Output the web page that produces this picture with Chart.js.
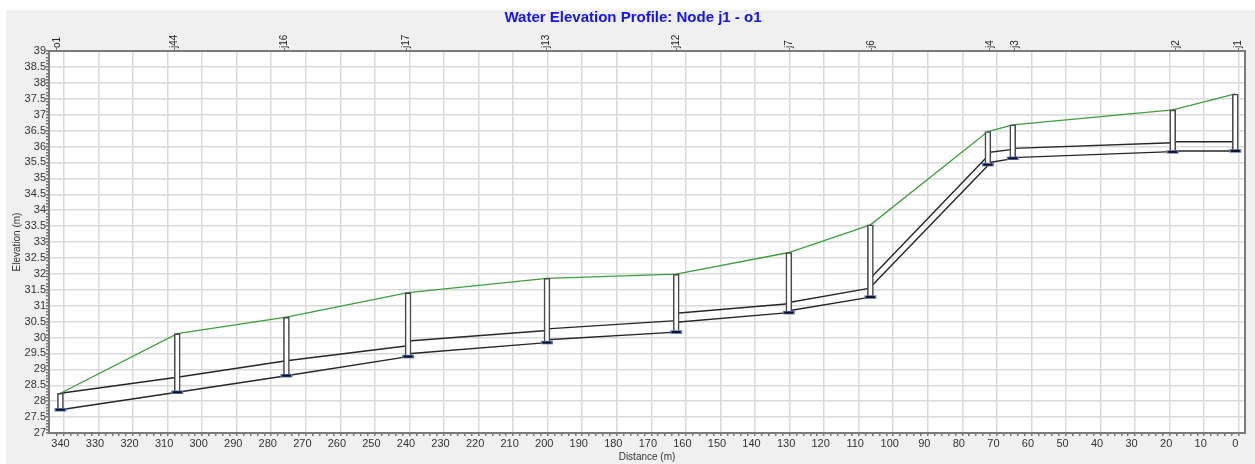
<!DOCTYPE html>
<html>
<head>
<meta charset="utf-8">
<title>Water Elevation Profile</title>
<script src="https://cdn.jsdelivr.net/npm/chart.js@4.4.1/dist/chart.umd.min.js"></script>
<style>
html, body { margin: 0; padding: 0; background: #fff; }
#wrap { width: 1255px; height: 464px; }
</style>
</head>
<body>
<div id="wrap"><canvas id="profile" width="1255" height="464"></canvas></div>
<script>
// nodes along the profile, left (o1) to right (j1)
const nodeNames = ['o1', 'j44', 'j16', 'j17', 'j13', 'j12', 'j7', 'j6', 'j4', 'j3', 'j2', 'j1'];
const nodeDist = [340, 306.2, 274.6, 239.4, 199.2, 161.8, 129.2, 105.6, 71.6, 64.4, 18.1, 0];
const waterElev = [28.25, 30.12, 30.64, 31.41, 31.86, 31.99, 32.67, 33.54, 36.47, 36.68, 37.15, 37.65];
const invertElev = [27.73, 28.28, 28.80, 29.40, 29.84, 30.17, 30.78, 31.27, 35.43, 35.63, 35.83, 35.86];

// links between neighbour nodes: pipe bottom / crown at left and right end
const linkBotLeft = [27.73, 28.28, 28.80, 29.49, 29.93, 30.48, 30.84, 31.58, 35.49, 35.65, 35.86];
const linkBotRight = [28.28, 28.80, 29.40, 29.84, 30.17, 30.78, 31.27, 35.40, 35.62, 35.84, 35.86];
const linkTopLeft = [28.25, 28.75, 29.27, 29.89, 30.27, 30.76, 31.10, 31.86, 35.81, 35.94, 36.15];
const linkTopRight = [28.75, 29.27, 29.74, 30.22, 30.53, 31.06, 31.55, 35.70, 35.91, 36.12, 36.15];

const FONT = 'Liberation Sans, Arial, sans-serif';
const X_MIN = -1.8, X_MAX = 342.3;

function pipeLine(leftVals, rightVals) {
    const pts = [];
    for (let i = 0; i < leftVals.length; i++) {
        pts.push({x: nodeDist[i], y: leftVals[i]});
        pts.push({x: nodeDist[i + 1], y: rightVals[i]});
        pts.push({x: nodeDist[i + 1], y: null});
    }
    return pts;
}

const waterPts = nodeDist.map((d, i) => ({x: d, y: waterElev[i]}));
const nodeBars = nodeDist.map((d, i) => ({x: d, y: [invertElev[i], waterElev[i]]}));
const invertPts = nodeDist.map((d, i) => ({x: d, y: invertElev[i]}));

const background = {
    id: 'background',
    beforeDraw(chart) {
        const {ctx, width, height, chartArea: a} = chart;
        ctx.save();
        ctx.fillStyle = '#ffffff';
        ctx.fillRect(0, 0, width, height);
        ctx.fillStyle = '#f0f0f0';
        ctx.fillRect(6, 10, width - 6, height - 10);
        ctx.fillStyle = '#ffffff';
        ctx.fillRect(a.left, a.top, a.right - a.left, a.bottom - a.top);
        ctx.restore();
    },
    afterDraw(chart) {
        const {ctx, chartArea: a} = chart;
        ctx.save();
        ctx.strokeStyle = '#7a7a7a';
        ctx.lineWidth = 2;
        ctx.strokeRect(a.left, a.top, a.right - a.left, a.bottom - a.top);
        ctx.restore();
    }
};

const isHalf = v => Math.abs(v * 2 - Math.round(v * 2)) < 1e-6;

const config = {
    type: 'line',
    data: {
        datasets: [
            {
                type: 'line',
                data: pipeLine(linkTopLeft, linkTopRight),
                borderColor: '#262626',
                borderWidth: 1.4,
                pointRadius: 0,
                spanGaps: false,
                xAxisID: 'x', yAxisID: 'y',
                order: 3
            },
            {
                type: 'line',
                data: pipeLine(linkBotLeft, linkBotRight),
                borderColor: '#262626',
                borderWidth: 1.4,
                pointRadius: 0,
                spanGaps: false,
                xAxisID: 'x', yAxisID: 'y',
                order: 3
            },
            {
                type: 'line',
                data: waterPts,
                borderColor: '#3c9e3c',
                borderWidth: 1.3,
                pointRadius: 0,
                tension: 0,
                xAxisID: 'x', yAxisID: 'y',
                order: 2
            },
            {
                type: 'bar',
                data: nodeBars,
                backgroundColor: '#ffffff',
                borderColor: '#4a4a4a',
                borderWidth: 1.6,
                borderSkipped: false,
                barThickness: 6,
                xAxisID: 'x', yAxisID: 'y',
                order: 1
            },
            {
                type: 'line',
                data: invertPts,
                showLine: false,
                pointStyle: 'line',
                pointRadius: 6,
                pointBorderWidth: 3.5,
                pointBorderColor: '#5577cc',
                xAxisID: 'x', yAxisID: 'y',
                order: 0.5
            },
            {
                type: 'line',
                data: invertPts,
                showLine: false,
                pointStyle: 'line',
                pointRadius: 4.5,
                pointBorderWidth: 2,
                pointBorderColor: '#111111',
                xAxisID: 'x', yAxisID: 'y',
                order: 0
            }
        ]
    },
    options: {
        responsive: false,
        animation: false,
        layout: {padding: {left: 11, right: 0, top: 0, bottom: 0}},
        plugins: {
            legend: {display: false},
            tooltip: {enabled: false},
            title: {
                display: true,
                text: 'Water Elevation Profile: Node j1 - o1',
                color: '#1414f0',
                font: {family: FONT, size: 15, weight: 'bold'},
                padding: {top: 9, bottom: 0}
            }
        },
        scales: {
            x: {
                type: 'linear',
                position: 'bottom',
                reverse: true,
                min: X_MIN,
                max: X_MAX,
                afterBuildTicks: s => {
                    const t = [];
                    for (let v = 0; v <= 340; v += 2) t.push({value: v});
                    s.ticks = t;
                },
                afterFit: s => { s.height = 31; },
                ticks: {
                    autoSkip: false,
                    maxRotation: 0,
                    minRotation: 0,
                    padding: 1,
                    color: '#333',
                    font: {family: FONT, size: 11},
                    callback: v => (v % 10 === 0 ? String(v) : '')
                },
                grid: {
                    color: c => (c.tick && c.tick.value % 10 === 0 ? '#dadada' : 'rgba(0,0,0,0)'),
                    lineWidth: 1.5,
                    tickColor: '#777',
                    tickLength: 3
                },
                border: {display: false},
                title: {
                    display: true,
                    text: 'Distance (m)',
                    color: '#333',
                    font: {family: FONT, size: 10},
                    padding: {top: 0, bottom: 1}
                }
            },
            xTop: {
                type: 'linear',
                position: 'top',
                reverse: true,
                min: X_MIN,
                max: X_MAX,
                afterBuildTicks: s => { s.ticks = nodeDist.map(v => ({value: v})); },
                afterFit: s => { s.height = 24; },
                ticks: {
                    autoSkip: false,
                    minRotation: 90,
                    maxRotation: 90,
                    padding: 0,
                    labelOffset: 12,
                    color: '#222',
                    font: {family: FONT, size: 10},
                    callback: (v, i) => nodeNames[i]
                },
                grid: {drawOnChartArea: false, tickColor: '#777', tickLength: 3},
                border: {display: false}
            },
            y: {
                type: 'linear',
                position: 'left',
                min: 27,
                max: 39,
                afterBuildTicks: s => {
                    const t = [];
                    for (let k = 270; k <= 390; k++) t.push({value: k / 10});
                    s.ticks = t;
                },
                afterFit: s => { s.width = 38; },
                ticks: {
                    autoSkip: false,
                    padding: 0,
                    color: '#333',
                    font: {family: FONT, size: 11},
                    callback: v => (isHalf(v) ? String(v) : '')
                },
                grid: {
                    color: c => (c.tick && isHalf(c.tick.value) ? '#dadada' : 'rgba(0,0,0,0)'),
                    lineWidth: 1.5,
                    tickColor: '#777',
                    tickLength: 3
                },
                border: {display: false},
                title: {
                    display: true,
                    text: 'Elevation (m)',
                    color: '#333',
                    font: {family: FONT, size: 10},
                    padding: {top: 0, bottom: 0}
                }
            },
            yRight: {
                type: 'linear',
                position: 'right',
                min: 27,
                max: 39,
                afterFit: s => { s.width = 10; },
                ticks: {display: false},
                grid: {display: false},
                border: {display: false}
            }
        }
    },
    plugins: [background]
};

const profileChart = new Chart(document.getElementById('profile'), config);
</script>
</body>
</html>
